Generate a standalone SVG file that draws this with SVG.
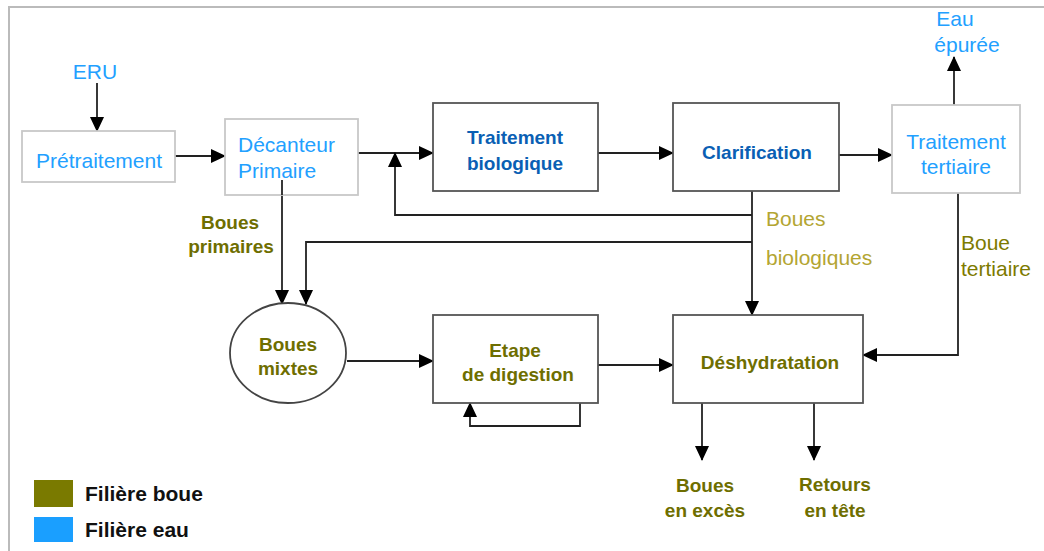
<svg xmlns="http://www.w3.org/2000/svg" width="1044" height="551" viewBox="0 0 1044 551">
<defs>
<marker id="ah" markerUnits="userSpaceOnUse" markerWidth="15" markerHeight="15" viewBox="0 0 15 14" refX="14" refY="7" orient="auto">
<path d="M0,0 L15,7 L0,14 Z" fill="#000"/>
</marker>
<style>
.frame{stroke:#bbb;stroke-width:2;fill:none}
.bx{fill:#fff;stroke:#555;stroke-width:1.8}
.lbx{fill:#fff;stroke:#c8c8c8;stroke-width:1.8}
.ln{fill:none;stroke:#222;stroke-width:1.8}
.arr{fill:none;stroke:#222;stroke-width:1.8;marker-end:url(#ah)}
text{font-family:"Liberation Sans",Arial,sans-serif;font-size:21px}
.blue{fill:#22a0ff}
.dblue{fill:#0a5fb4;font-weight:bold;font-size:19px}
.olive{fill:#6e6e00;font-weight:bold;font-size:19px}
.lol{fill:#b3a532}
.tol{fill:#7d7a00}
.c{text-anchor:middle}
.leg{fill:#111;font-weight:bold;font-size:21px}
</style>
</defs>
<rect width="1044" height="551" fill="#fff"/>
<path class="frame" d="M9,551 V7 H1044"/>

<g id="connectors">
<path class="arr" d="M97,83 V131"/>
<path class="arr" d="M175,156 H225"/>
<path class="arr" d="M358,153 H433"/>
<path class="arr" d="M752,215 H395 V153"/>
<path class="arr" d="M598,153 H673"/>
<path class="arr" d="M839,155 H892"/>
<path class="arr" d="M954,105 V57"/>
<path class="arr" d="M752,191 V315"/>
<path class="arr" d="M752,242 H306 V304"/>
<path class="arr" d="M282,180 V304"/>
<path class="arr" d="M347,361 H433"/>
<path class="arr" d="M580,403 V426 H470 V403"/>
<path class="arr" d="M598,365 H673"/>
<path class="arr" d="M958,193 V355 H863"/>
<path class="arr" d="M702,403 V460"/>
<path class="arr" d="M814,403 V460"/>
</g>

<g id="eru"><text class="blue c" x="95" y="79">ERU</text></g>
<g id="pretraitement">
<rect class="lbx" x="22" y="131" width="153" height="51"/>
<text class="blue c" x="99" y="168">Prétraitement</text>
</g>
<g id="decanteur">
<rect class="lbx" x="225" y="119" width="133" height="76"/>
<text class="blue" x="238" y="152">Décanteur</text>
<text class="blue" x="238" y="178">Primaire</text>
</g>
<path class="ln" d="M282,180 V195"/>
<g id="bio">
<rect class="bx" x="433" y="103" width="165" height="88"/>
<text class="dblue c" x="515" y="144">Traitement</text>
<text class="dblue c" x="515" y="170">biologique</text>
</g>
<g id="clarification">
<rect class="bx" x="673" y="103" width="166" height="88"/>
<text class="dblue c" x="757" y="159">Clarification</text>
</g>
<g id="tertiaire">
<rect class="lbx" x="892" y="105" width="128" height="88"/>
<text class="blue c" x="956" y="149">Traitement</text>
<text class="blue c" x="956" y="174">tertiaire</text>
</g>
<g id="eau">
<text class="blue c" x="955" y="26">Eau</text>
<text class="blue c" x="967" y="52">épurée</text>
</g>
<g id="boues-primaires">
<text class="olive c" x="230" y="229">Boues</text>
<text class="olive c" x="231" y="253">primaires</text>
</g>
<g id="boues-bio">
<text class="lol" x="766" y="226">Boues</text>
<text class="lol" x="766" y="265">biologiques</text>
</g>
<g id="boue-tertiaire">
<text class="tol" x="961" y="250">Boue</text>
<text class="tol" x="961" y="276">tertiaire</text>
</g>
<g id="boues-mixtes">
<ellipse cx="288" cy="353" rx="58" ry="50" fill="#fff" stroke="#444" stroke-width="1.8"/>
<text class="olive c" x="288" y="351">Boues</text>
<text class="olive c" x="288" y="375">mixtes</text>
</g>
<g id="digestion">
<rect class="bx" x="433" y="315" width="165" height="88"/>
<text class="olive c" x="515" y="357">Etape</text>
<text class="olive c" x="518" y="381">de digestion</text>
</g>
<g id="deshydratation">
<rect class="bx" x="673" y="315" width="190" height="88"/>
<text class="olive c" x="770" y="369">Déshydratation</text>
</g>
<g id="boues-exces">
<text class="olive c" x="705" y="492">Boues</text>
<text class="olive c" x="705" y="517">en excès</text>
</g>
<g id="retours">
<text class="olive c" x="835" y="491">Retours</text>
<text class="olive c" x="835" y="517">en tête</text>
</g>
<g id="legend">
<rect x="34" y="480" width="39" height="27" fill="#7a7a00"/>
<rect x="34" y="517" width="39" height="25" fill="#1a9fff"/>
<text class="leg" x="85" y="501">Filière boue</text>
<text class="leg" x="85" y="537">Filière eau</text>
</g>
</svg>
